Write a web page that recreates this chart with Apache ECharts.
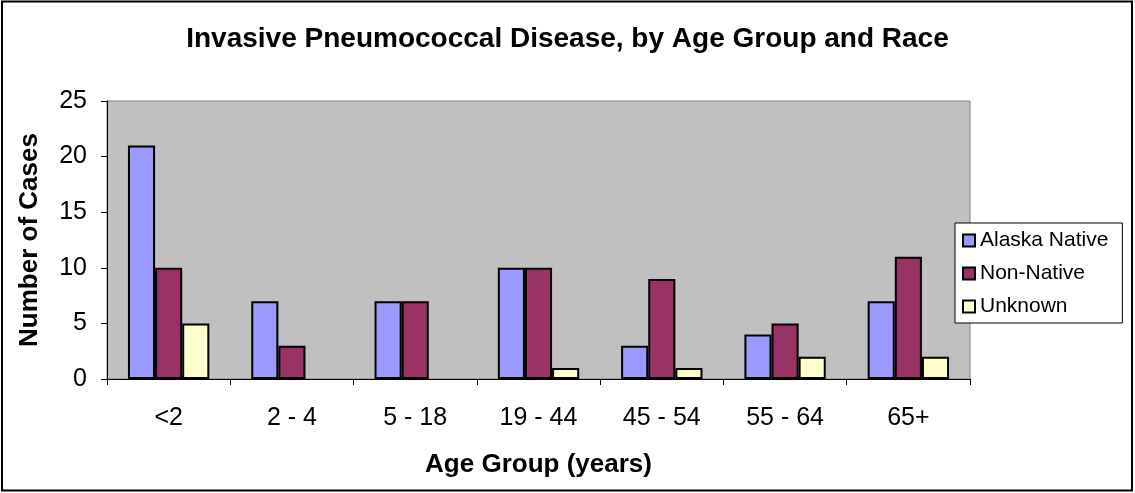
<!DOCTYPE html>
<html><head><meta charset="utf-8">
<script src="https://cdn.jsdelivr.net/npm/echarts@6/dist/echarts.min.js"></script>
<style>html,body{margin:0;padding:0;background:#fff}#c{width:1135px;height:493px}</style>
</head><body><div id="c"></div>
<script>
const categories = ['<2', '2 - 4', '5 - 18', '19 - 44', '45 - 54', '55 - 64', '65+'];
const alaskaNative = [21, 7, 7, 10, 3, 4, 7];
const nonNative = [10, 3, 7, 10, 9, 5, 11];
const unknown = [5, 0, 0, 1, 1, 2, 2];
const seriesNames = ['Alaska Native', 'Non-Native', 'Unknown'];
const colors = ['#9999FF', '#993366', '#FFFFCC'];

const chart = echarts.init(document.getElementById('c'));
const font = 'Liberation Sans, Arial, sans-serif';
function mk(name, data, color) {
  return {
    name, type: 'bar', barGap: '0%', barCategoryGap: '34%',
    data: data.map(v => v === 0 ? { value: 0, itemStyle: { borderWidth: 0, opacity: 0 } } : v),
    itemStyle: { color, borderColor: '#000', borderWidth: 2 },
    emphasis: { disabled: true }
  };
}
chart.setOption({
  animation: false,
  title: {
    text: 'Invasive Pneumococcal Disease, by Age Group and Race',
    left: 'center', top: 20,
    textStyle: { fontFamily: font, fontSize: 28, fontWeight: 'bold', color: '#000' }
  },
  legend: {
    orient: 'vertical', left: 955, top: 223,
    padding: [7, 14, 6, 7],
    itemGap: 12, itemWidth: 12, itemHeight: 12,
    backgroundColor: '#fff', borderColor: '#000', borderWidth: 1,
    textStyle: { fontFamily: font, fontSize: 21, color: '#000' },
    itemStyle: { borderColor: '#000', borderWidth: 2 },
    icon: 'rect',
    data: seriesNames
  },
  grid: {
    left: 107, right: 165, top: 101, bottom: 114,
    show: true, backgroundColor: '#C0C0C0', borderColor: '#808080', borderWidth: 1
  },
  xAxis: {
    type: 'category', data: categories,
    name: 'Age Group (years)', nameLocation: 'middle', nameGap: 73,
    nameTextStyle: { fontFamily: font, fontSize: 26, fontWeight: 'bold', color: '#000' },
    axisLine: { lineStyle: { color: '#000', width: 1 } },
    axisTick: { show: true, length: 6, lineStyle: { color: '#000' } },
    axisLabel: { fontFamily: font, fontSize: 25, color: '#000', margin: 27 }
  },
  yAxis: {
    type: 'value', min: 0, max: 25, interval: 5,
    name: 'Number of Cases', nameLocation: 'middle', nameGap: 64, nameRotate: 90,
    nameTextStyle: { fontFamily: font, fontSize: 26, fontWeight: 'bold', color: '#000' },
    axisLine: { show: true, lineStyle: { color: '#000', width: 1 } },
    axisTick: { show: true, length: 6, lineStyle: { color: '#000' } },
    axisLabel: { fontFamily: font, fontSize: 25, color: '#000', margin: 20 },
    splitLine: { show: false }
  },
  series: [
    mk(seriesNames[0], alaskaNative, colors[0]),
    mk(seriesNames[1], nonNative, colors[1]),
    mk(seriesNames[2], unknown, colors[2])
  ],
  graphic: [{
    type: 'rect', silent: true, z: 100,
    shape: { x: 2, y: 1.5, width: 1130, height: 489 },
    style: { fill: 'none', stroke: '#000', lineWidth: 2 }
  }]
});
</script></body></html>
